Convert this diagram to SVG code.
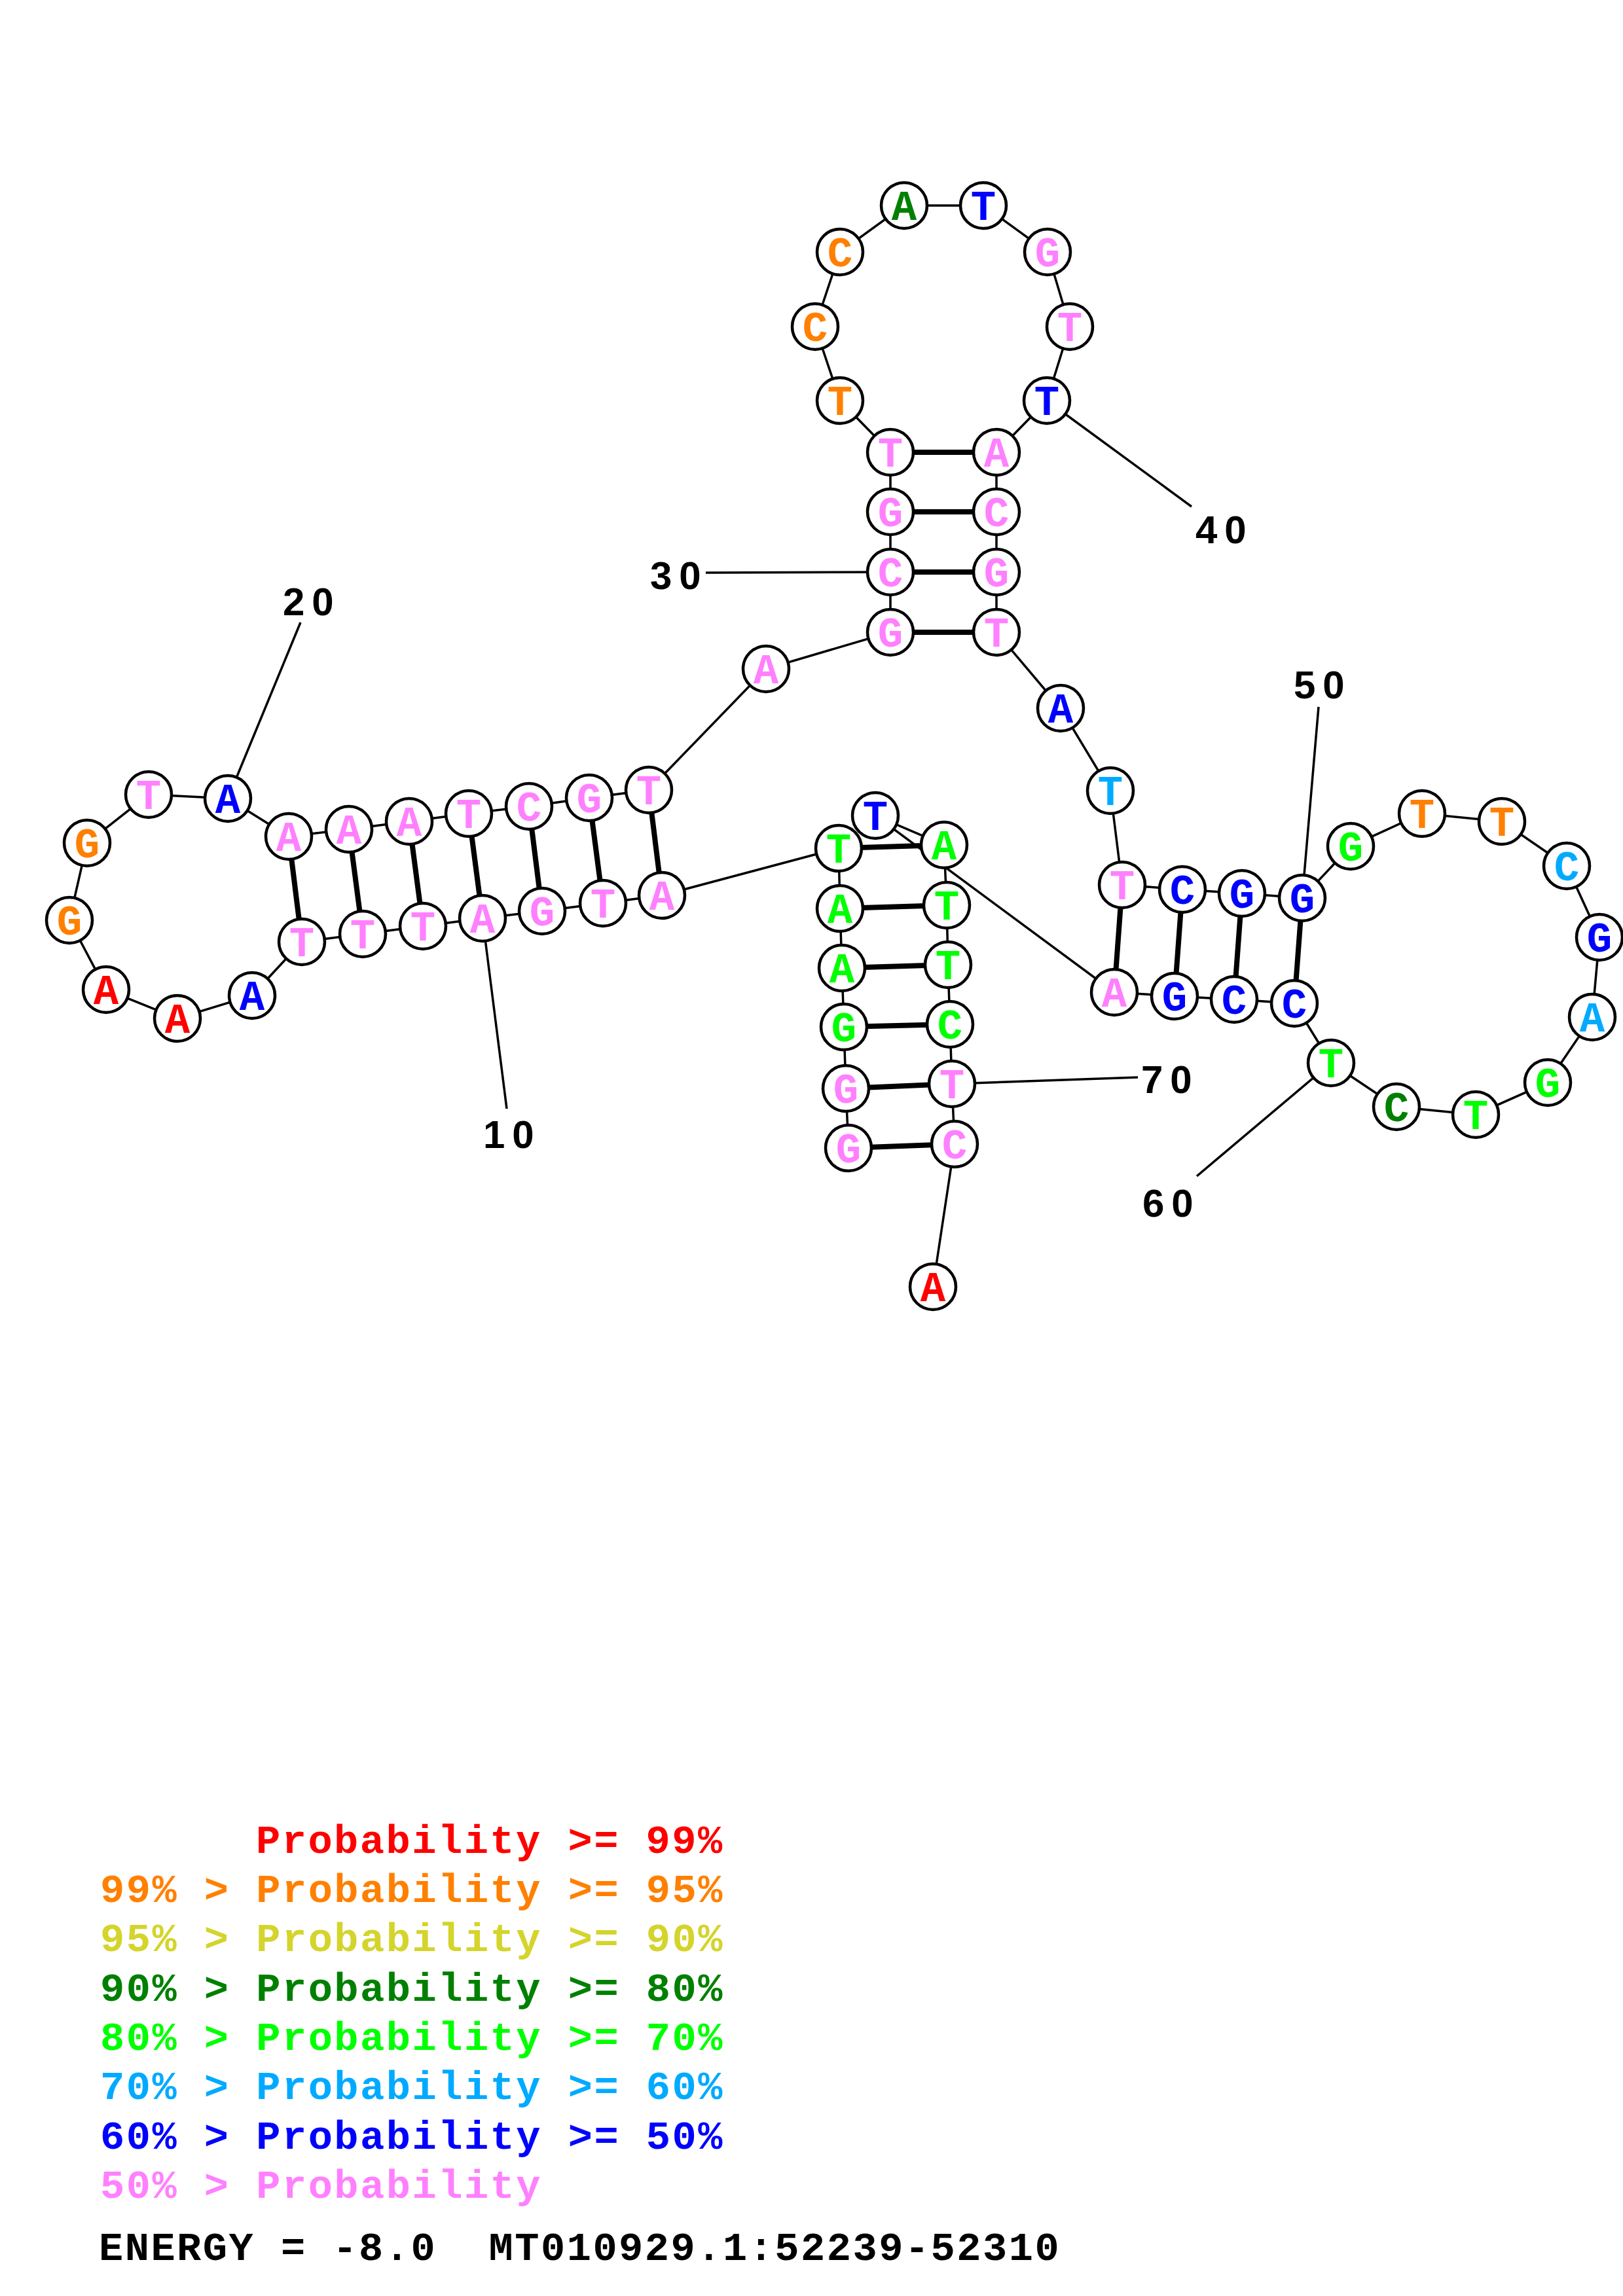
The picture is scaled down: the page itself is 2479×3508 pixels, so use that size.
<svg xmlns="http://www.w3.org/2000/svg" width="2479" height="3508" viewBox="0 0 2479 3508">
<style>
.bg{fill:#ffffff}
.bb{stroke:#000;stroke-width:3.5;fill:none}
.bp{stroke:#000;stroke-width:8;fill:none}
.ll{stroke:#000;stroke-width:3.5;fill:none}
.n circle{fill:#fff;stroke:#000;stroke-width:4.5}
.n text{font-family:"Liberation Mono","DejaVu Sans Mono",monospace;font-weight:bold;font-size:64px;text-anchor:middle}
.lab{font-family:"Liberation Sans",Arial,sans-serif;font-weight:bold;font-size:60px;letter-spacing:11px;fill:#000}
.leg{font-family:"Liberation Mono","DejaVu Sans Mono",monospace;font-weight:bold;font-size:62px;letter-spacing:2.5px;white-space:pre}
.r{fill:#FF0000}.o{fill:#FF8000}.y{fill:#D4D42C}.d{fill:#008000}.g{fill:#00FF00}.s{fill:#00AAFF}.b{fill:#0000FF}.p{fill:#FF80FF}.k{fill:#000}
</style>
<rect class="bg" x="0" y="0" width="2479" height="3508"/>
<g id="connectors">
<polyline class="bb" points="1296,1754 1292,1663 1289,1569 1286,1479 1283,1388 1281,1296 1011,1368 921,1380 828,1392 737,1403 646,1415 554,1427 461,1439 385,1521 271,1556 162,1512 106,1406 133,1288 227,1214 348,1220 441,1278 533,1267 625,1255 716,1243 808,1232 900,1219 991,1207 1170,1022 1360,966 1360,874 1360,782 1360,691 1283,612 1245,499 1283,385 1381,314 1502,314 1600,385 1634,499 1599,612 1522,691 1522,782 1522,874 1522,966 1620,1082 1696,1208 1714,1352 1806,1359 1897,1365 1989,1372 2063,1293 2172,1243 2294,1255 2393,1323 2443,1432 2432,1554 2364,1654 2254,1703 2133,1691 2033,1624 1977,1533 1885,1527 1794,1522 1702,1516 1337,1246 1442,1291 1446,1383 1448,1474 1451,1565 1454,1656 1458,1748 1425,1966"/>
<line class="bp" x1="1296" y1="1754" x2="1458" y2="1748"/>
<line class="bp" x1="1292" y1="1663" x2="1454" y2="1656"/>
<line class="bp" x1="1289" y1="1569" x2="1451" y2="1565"/>
<line class="bp" x1="1286" y1="1479" x2="1448" y2="1474"/>
<line class="bp" x1="1283" y1="1388" x2="1446" y2="1383"/>
<line class="bp" x1="1281" y1="1296" x2="1442" y2="1291"/>
<line class="bp" x1="1011" y1="1368" x2="991" y2="1207"/>
<line class="bp" x1="921" y1="1380" x2="900" y2="1219"/>
<line class="bp" x1="828" y1="1392" x2="808" y2="1232"/>
<line class="bp" x1="737" y1="1403" x2="716" y2="1243"/>
<line class="bp" x1="646" y1="1415" x2="625" y2="1255"/>
<line class="bp" x1="554" y1="1427" x2="533" y2="1267"/>
<line class="bp" x1="461" y1="1439" x2="441" y2="1278"/>
<line class="bp" x1="1360" y1="966" x2="1522" y2="966"/>
<line class="bp" x1="1360" y1="874" x2="1522" y2="874"/>
<line class="bp" x1="1360" y1="782" x2="1522" y2="782"/>
<line class="bp" x1="1360" y1="691" x2="1522" y2="691"/>
<line class="bp" x1="1714" y1="1352" x2="1702" y2="1516"/>
<line class="bp" x1="1806" y1="1359" x2="1794" y2="1522"/>
<line class="bp" x1="1897" y1="1365" x2="1885" y2="1527"/>
<line class="bp" x1="1989" y1="1372" x2="1977" y2="1533"/>
<line class="ll" x1="737" y1="1403" x2="774" y2="1694"/>
<line class="ll" x1="348" y1="1220" x2="459" y2="951"/>
<line class="ll" x1="1360" y1="874" x2="1078" y2="875"/>
<line class="ll" x1="1599" y1="612" x2="1820" y2="774"/>
<line class="ll" x1="1989" y1="1372" x2="2014" y2="1080"/>
<line class="ll" x1="2033" y1="1624" x2="1828" y2="1797"/>
<line class="ll" x1="1454" y1="1656" x2="1738" y2="1646"/>
</g>
<g id="n1" class="n"><circle cx="1296" cy="1754" r="35"/><text class="p" x="1296" y="1776">G</text></g>
<g id="n2" class="n"><circle cx="1292" cy="1663" r="35"/><text class="p" x="1292" y="1685">G</text></g>
<g id="n3" class="n"><circle cx="1289" cy="1569" r="35"/><text class="g" x="1289" y="1591">G</text></g>
<g id="n4" class="n"><circle cx="1286" cy="1479" r="35"/><text class="g" x="1286" y="1501">A</text></g>
<g id="n5" class="n"><circle cx="1283" cy="1388" r="35"/><text class="g" x="1283" y="1410">A</text></g>
<g id="n6" class="n"><circle cx="1281" cy="1296" r="35"/><text class="g" x="1281" y="1318">T</text></g>
<g id="n7" class="n"><circle cx="1011" cy="1368" r="35"/><text class="p" x="1011" y="1390">A</text></g>
<g id="n8" class="n"><circle cx="921" cy="1380" r="35"/><text class="p" x="921" y="1402">T</text></g>
<g id="n9" class="n"><circle cx="828" cy="1392" r="35"/><text class="p" x="828" y="1414">G</text></g>
<g id="n10" class="n"><circle cx="737" cy="1403" r="35"/><text class="p" x="737" y="1425">A</text></g>
<g id="n11" class="n"><circle cx="646" cy="1415" r="35"/><text class="p" x="646" y="1437">T</text></g>
<g id="n12" class="n"><circle cx="554" cy="1427" r="35"/><text class="p" x="554" y="1449">T</text></g>
<g id="n13" class="n"><circle cx="461" cy="1439" r="35"/><text class="p" x="461" y="1461">T</text></g>
<g id="n14" class="n"><circle cx="385" cy="1521" r="35"/><text class="b" x="385" y="1543">A</text></g>
<g id="n15" class="n"><circle cx="271" cy="1556" r="35"/><text class="r" x="271" y="1578">A</text></g>
<g id="n16" class="n"><circle cx="162" cy="1512" r="35"/><text class="r" x="162" y="1534">A</text></g>
<g id="n17" class="n"><circle cx="106" cy="1406" r="35"/><text class="o" x="106" y="1428">G</text></g>
<g id="n18" class="n"><circle cx="133" cy="1288" r="35"/><text class="o" x="133" y="1310">G</text></g>
<g id="n19" class="n"><circle cx="227" cy="1214" r="35"/><text class="p" x="227" y="1236">T</text></g>
<g id="n20" class="n"><circle cx="348" cy="1220" r="35"/><text class="b" x="348" y="1242">A</text></g>
<g id="n21" class="n"><circle cx="441" cy="1278" r="35"/><text class="p" x="441" y="1300">A</text></g>
<g id="n22" class="n"><circle cx="533" cy="1267" r="35"/><text class="p" x="533" y="1289">A</text></g>
<g id="n23" class="n"><circle cx="625" cy="1255" r="35"/><text class="p" x="625" y="1277">A</text></g>
<g id="n24" class="n"><circle cx="716" cy="1243" r="35"/><text class="p" x="716" y="1265">T</text></g>
<g id="n25" class="n"><circle cx="808" cy="1232" r="35"/><text class="p" x="808" y="1254">C</text></g>
<g id="n26" class="n"><circle cx="900" cy="1219" r="35"/><text class="p" x="900" y="1241">G</text></g>
<g id="n27" class="n"><circle cx="991" cy="1207" r="35"/><text class="p" x="991" y="1229">T</text></g>
<g id="n28" class="n"><circle cx="1170" cy="1022" r="35"/><text class="p" x="1170" y="1044">A</text></g>
<g id="n29" class="n"><circle cx="1360" cy="966" r="35"/><text class="p" x="1360" y="988">G</text></g>
<g id="n30" class="n"><circle cx="1360" cy="874" r="35"/><text class="p" x="1360" y="896">C</text></g>
<g id="n31" class="n"><circle cx="1360" cy="782" r="35"/><text class="p" x="1360" y="804">G</text></g>
<g id="n32" class="n"><circle cx="1360" cy="691" r="35"/><text class="p" x="1360" y="713">T</text></g>
<g id="n33" class="n"><circle cx="1283" cy="612" r="35"/><text class="o" x="1283" y="634">T</text></g>
<g id="n34" class="n"><circle cx="1245" cy="499" r="35"/><text class="o" x="1245" y="521">C</text></g>
<g id="n35" class="n"><circle cx="1283" cy="385" r="35"/><text class="o" x="1283" y="407">C</text></g>
<g id="n36" class="n"><circle cx="1381" cy="314" r="35"/><text class="d" x="1381" y="336">A</text></g>
<g id="n37" class="n"><circle cx="1502" cy="314" r="35"/><text class="b" x="1502" y="336">T</text></g>
<g id="n38" class="n"><circle cx="1600" cy="385" r="35"/><text class="p" x="1600" y="407">G</text></g>
<g id="n39" class="n"><circle cx="1634" cy="499" r="35"/><text class="p" x="1634" y="521">T</text></g>
<g id="n40" class="n"><circle cx="1599" cy="612" r="35"/><text class="b" x="1599" y="634">T</text></g>
<g id="n41" class="n"><circle cx="1522" cy="691" r="35"/><text class="p" x="1522" y="713">A</text></g>
<g id="n42" class="n"><circle cx="1522" cy="782" r="35"/><text class="p" x="1522" y="804">C</text></g>
<g id="n43" class="n"><circle cx="1522" cy="874" r="35"/><text class="p" x="1522" y="896">G</text></g>
<g id="n44" class="n"><circle cx="1522" cy="966" r="35"/><text class="p" x="1522" y="988">T</text></g>
<g id="n45" class="n"><circle cx="1620" cy="1082" r="35"/><text class="b" x="1620" y="1104">A</text></g>
<g id="n46" class="n"><circle cx="1696" cy="1208" r="35"/><text class="s" x="1696" y="1230">T</text></g>
<g id="n47" class="n"><circle cx="1714" cy="1352" r="35"/><text class="p" x="1714" y="1374">T</text></g>
<g id="n48" class="n"><circle cx="1806" cy="1359" r="35"/><text class="b" x="1806" y="1381">C</text></g>
<g id="n49" class="n"><circle cx="1897" cy="1365" r="35"/><text class="b" x="1897" y="1387">G</text></g>
<g id="n50" class="n"><circle cx="1989" cy="1372" r="35"/><text class="b" x="1989" y="1394">G</text></g>
<g id="n51" class="n"><circle cx="2063" cy="1293" r="35"/><text class="g" x="2063" y="1315">G</text></g>
<g id="n52" class="n"><circle cx="2172" cy="1243" r="35"/><text class="o" x="2172" y="1265">T</text></g>
<g id="n53" class="n"><circle cx="2294" cy="1255" r="35"/><text class="o" x="2294" y="1277">T</text></g>
<g id="n54" class="n"><circle cx="2393" cy="1323" r="35"/><text class="s" x="2393" y="1345">C</text></g>
<g id="n55" class="n"><circle cx="2443" cy="1432" r="35"/><text class="b" x="2443" y="1454">G</text></g>
<g id="n56" class="n"><circle cx="2432" cy="1554" r="35"/><text class="s" x="2432" y="1576">A</text></g>
<g id="n57" class="n"><circle cx="2364" cy="1654" r="35"/><text class="g" x="2364" y="1676">G</text></g>
<g id="n58" class="n"><circle cx="2254" cy="1703" r="35"/><text class="g" x="2254" y="1725">T</text></g>
<g id="n59" class="n"><circle cx="2133" cy="1691" r="35"/><text class="d" x="2133" y="1713">C</text></g>
<g id="n60" class="n"><circle cx="2033" cy="1624" r="35"/><text class="g" x="2033" y="1646">T</text></g>
<g id="n61" class="n"><circle cx="1977" cy="1533" r="35"/><text class="b" x="1977" y="1555">C</text></g>
<g id="n62" class="n"><circle cx="1885" cy="1527" r="35"/><text class="b" x="1885" y="1549">C</text></g>
<g id="n63" class="n"><circle cx="1794" cy="1522" r="35"/><text class="b" x="1794" y="1544">G</text></g>
<g id="n64" class="n"><circle cx="1702" cy="1516" r="35"/><text class="p" x="1702" y="1538">A</text></g>
<g id="n65" class="n"><circle cx="1337" cy="1246" r="35"/><text class="b" x="1337" y="1268">T</text></g>
<g id="n66" class="n"><circle cx="1442" cy="1291" r="35"/><text class="g" x="1442" y="1313">A</text></g>
<g id="n67" class="n"><circle cx="1446" cy="1383" r="35"/><text class="g" x="1446" y="1405">T</text></g>
<g id="n68" class="n"><circle cx="1448" cy="1474" r="35"/><text class="g" x="1448" y="1496">T</text></g>
<g id="n69" class="n"><circle cx="1451" cy="1565" r="35"/><text class="g" x="1451" y="1587">C</text></g>
<g id="n70" class="n"><circle cx="1454" cy="1656" r="35"/><text class="p" x="1454" y="1678">T</text></g>
<g id="n71" class="n"><circle cx="1458" cy="1748" r="35"/><text class="p" x="1458" y="1770">C</text></g>
<g id="n72" class="n"><circle cx="1425" cy="1966" r="35"/><text class="r" x="1425" y="1988">A</text></g>
<g id="labels">
<text class="lab" x="738" y="1754">10</text>
<text class="lab" x="432" y="940">20</text>
<text class="lab" x="993" y="900">30</text>
<text class="lab" x="1826" y="830">40</text>
<text class="lab" x="1976" y="1067">50</text>
<text class="lab" x="1745" y="1859">60</text>
<text class="lab" x="1743" y="1670">70</text>
</g>
<g id="legend">
<text class="leg r" x="391" y="2831">Probability &gt;= 99%</text>
<text class="leg o" x="153" y="2906">99% &gt; Probability &gt;= 95%</text>
<text class="leg y" x="153" y="2981">95% &gt; Probability &gt;= 90%</text>
<text class="leg d" x="153" y="3057">90% &gt; Probability &gt;= 80%</text>
<text class="leg g" x="153" y="3132">80% &gt; Probability &gt;= 70%</text>
<text class="leg s" x="153" y="3207">70% &gt; Probability &gt;= 60%</text>
<text class="leg b" x="153" y="3283">60% &gt; Probability &gt;= 50%</text>
<text class="leg p" x="153" y="3358">50% &gt; Probability</text>
<text class="leg k" x="151" y="3453" xml:space="preserve">ENERGY = -8.0  MT010929.1:52239-52310</text>
</g>
</svg>
